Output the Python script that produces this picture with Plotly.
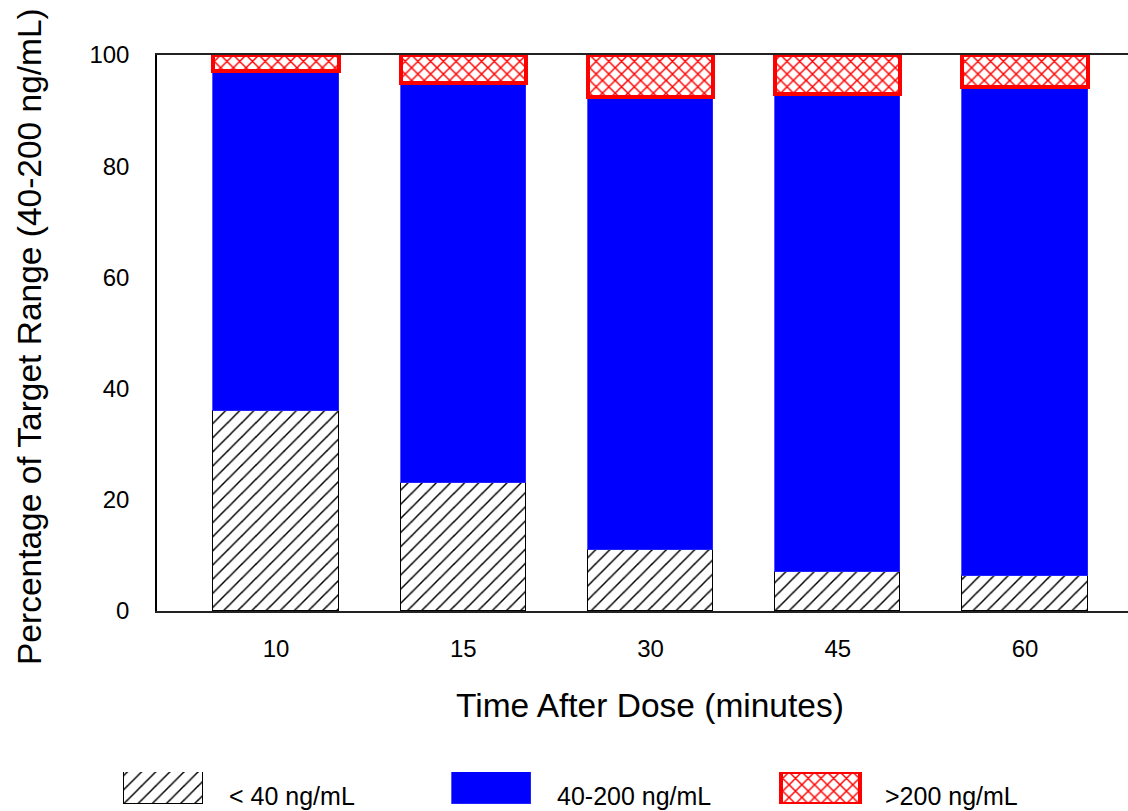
import plotly.graph_objects as go

# Time points after dose (minutes)
times = ["10", "15", "30", "45", "60"]
# Share of samples in each concentration band (%)
below_40 = [36.0, 23.1, 10.9, 7.1, 6.3]
within_40_200 = [61.2, 71.9, 81.5, 85.9, 88.0]
above_200 = [2.8, 5.0, 7.6, 7.0, 5.7]

band_names = ["< 40 ng/mL", "40-200 ng/mL", ">200 ng/mL"]
y_ticks = [0, 20, 40, 60, 80, 100]

W, H = 1128, 811
FONT = "Liberation Sans, Arial, Helvetica, sans-serif"

# plot box in pixels
L, T, B = 157, 55, 611
BAR_W = 0.67

low_style = dict(color="white", line=dict(color="black", width=1.5),
                 pattern=dict(shape="/", fgcolor="black", bgcolor="white",
                              size=10, solidity=0.15, fillmode="replace"))
mid_style = dict(color="#0000FF", line=dict(color="#2a2aff", width=0.8))
high_style = dict(color="white", line=dict(color="#FF0000", width=4),
                  pattern=dict(shape="x", fgcolor="#FF0000", bgcolor="white",
                               size=9, solidity=0.3, fillmode="replace"))
styles = [low_style, mid_style, high_style]

fig = go.Figure()
for name, vals, st in zip(band_names, [below_40, within_40_200, above_200], styles):
    fig.add_trace(go.Bar(x=times, y=vals, name=name, marker=st, width=BAR_W,
                         showlegend=False, xaxis="x", yaxis="y"))

# legend swatches drawn as bars on their own pixel-scaled axes
legend_x = [163, 491.5, 820]
legend_text_x = [227, 555, 883]
for name, cx, st in zip(band_names, legend_x, styles):
    fig.add_trace(go.Bar(x=[cx], y=[1], width=[79], marker=st, name=name,
                         showlegend=False, hoverinfo="skip",
                         xaxis="x2", yaxis="y2"))

fig.update_layout(
    width=W, height=H,
    margin=dict(l=0, r=0, t=0, b=0),
    template="none",
    paper_bgcolor="white", plot_bgcolor="white",
    barmode="stack", bargap=0,
    font=dict(family=FONT, color="black"),
    xaxis=dict(domain=[L / W, 1], type="category",
               range=[-(276 - L) / 187.25, (W - 276) / 187.25],
               showline=True, linecolor="#222", linewidth=2, mirror=True,
               ticks="", showgrid=False, zeroline=False,
               tickfont=dict(size=24, family=FONT), ticklabelstandoff=15,
               automargin=False),
    yaxis=dict(domain=[(H - B) / H, (H - T) / H], range=[0, 100],
               tickvals=y_ticks, showline=True, linecolor="black", linewidth=1.5,
               mirror=False, ticks="", showgrid=False, zeroline=False,
               tickfont=dict(size=24, family=FONT), ticklabelstandoff=21,
               automargin=False),
    xaxis2=dict(domain=[0, 1], range=[0, W], visible=False, anchor="y2"),
    yaxis2=dict(domain=[(H - 804) / H, (H - 772) / H], range=[0, 1],
                visible=False, anchor="x2"),
)

annotations = [
    dict(text="Time After Dose (minutes)", x=650 / W, y=1 - 705 / H,
         xref="paper", yref="paper", showarrow=False,
         font=dict(size=33.5, family=FONT), xanchor="center", yanchor="middle"),
    dict(text="Percentage of Target Range (40-200 ng/mL)", x=29 / W, y=1 - 337 / H,
         xref="paper", yref="paper", showarrow=False, textangle=-90,
         font=dict(size=33.5, family=FONT), xanchor="center", yanchor="middle"),
]
for name, tx in zip(band_names, legend_text_x):
    annotations.append(dict(text=name, x=tx / W, y=1 - 796 / H, xref="paper",
                            yref="paper", showarrow=False, xanchor="left",
                            yanchor="middle", font=dict(size=25, family=FONT)))
fig.update_layout(annotations=annotations)

fig.write_html("out.html")
